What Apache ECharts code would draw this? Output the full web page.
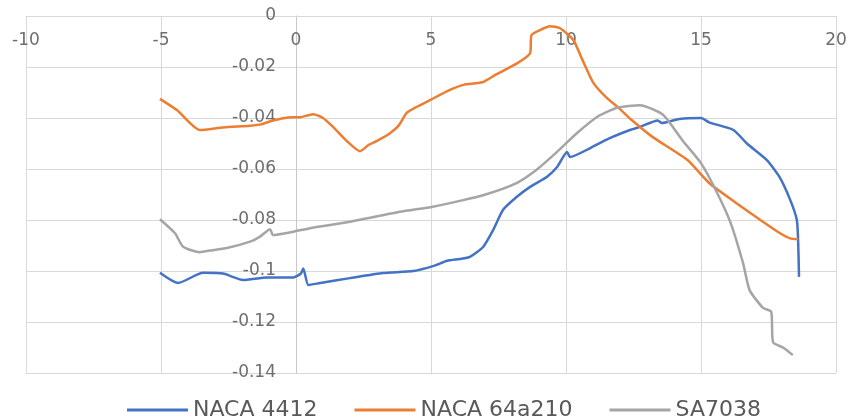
<!DOCTYPE html>
<html>
<head>
<meta charset="utf-8">
<script src="https://cdn.jsdelivr.net/npm/echarts@6/dist/echarts.min.js"></script>
<style>
  html, body { margin: 0; padding: 0; background: #fff; }
  #chart { width: 847px; height: 419px; }
</style>
</head>
<body>
<div id="chart"></div>
<script>
  // series names
  var seriesNames = ['NACA 4412', 'NACA 64a210', 'SA7038'];

  // [x, y] points
  var naca4412 = [
    [-5.04, -0.1007], [-4.37, -0.1047], [-3.44, -0.1007], [-2.7, -0.101], [-1.96, -0.1035],
    [-1.07, -0.1025], [-0.1, -0.1025], [0.18, -0.101], [0.27, -0.099], [0.46, -0.1055],
    [0.9, -0.1047], [2.0, -0.1028], [3.23, -0.1008], [4.35, -0.1], [5.1, -0.098],
    [5.6, -0.096], [6.07, -0.0953], [6.44, -0.0945], [6.93, -0.0906], [7.3, -0.084],
    [7.67, -0.076], [8.17, -0.071], [8.67, -0.067], [9.3, -0.063], [9.67, -0.0592],
    [10.04, -0.0533], [10.15, -0.0553], [10.9, -0.0518], [11.6, -0.048], [12.37, -0.0447],
    [12.74, -0.0435], [13.4, -0.041], [13.55, -0.042], [14.2, -0.0404], [15.0, -0.04],
    [15.3, -0.0417], [16.2, -0.0447], [16.7, -0.05], [17.44, -0.0565], [17.9, -0.063],
    [18.3, -0.072], [18.55, -0.08], [18.6, -0.089], [18.63, -0.1023]
  ];
  var naca64a210 = [
    [-5.04, -0.0325], [-4.4, -0.037], [-3.56, -0.0447], [-2.7, -0.0437], [-1.7, -0.043],
    [-1.3, -0.0425], [-0.85, -0.041], [-0.3, -0.0398], [0.15, -0.0397], [0.64, -0.0385],
    [1.0, -0.04], [1.37, -0.0435], [1.88, -0.049], [2.37, -0.053], [2.7, -0.0505],
    [3.0, -0.049], [3.48, -0.046], [3.8, -0.043], [4.1, -0.038], [4.5, -0.0355],
    [4.96, -0.033], [5.7, -0.029], [6.2, -0.027], [6.9, -0.026], [7.4, -0.023],
    [8.2, -0.0185], [8.67, -0.0146], [8.72, -0.0075], [9.04, -0.0055], [9.4, -0.004],
    [9.78, -0.0048], [10.27, -0.0094], [10.6, -0.017], [11.0, -0.026], [11.5, -0.032],
    [12.0, -0.0365], [12.4, -0.0405], [13.2, -0.0474], [14.5, -0.0565], [15.3, -0.0655],
    [16.3, -0.0733], [17.2, -0.08], [17.9, -0.085], [18.3, -0.0872], [18.6, -0.0875]
  ];
  var sa7038 = [
    [-5.04, -0.0797], [-4.48, -0.0852], [-4.18, -0.0905], [-3.56, -0.0926], [-3.2, -0.092],
    [-2.56, -0.091], [-1.7, -0.0885], [-1.33, -0.0865], [-0.96, -0.0836], [-0.85, -0.0859],
    [-0.1, -0.0846], [0.52, -0.0832], [2.0, -0.0807], [3.85, -0.0768], [5.07, -0.0748],
    [6.07, -0.0725], [6.93, -0.0703], [8.17, -0.0655], [8.9, -0.0604], [9.67, -0.0533],
    [10.4, -0.046], [11.15, -0.0396], [11.9, -0.036], [12.74, -0.035], [13.6, -0.0388],
    [14.3, -0.0486], [15.0, -0.0577], [15.6, -0.0694], [16.1, -0.0812], [16.56, -0.097],
    [16.8, -0.1075], [17.3, -0.1145], [17.6, -0.116], [17.67, -0.128], [18.04, -0.13],
    [18.4, -0.133]
  ];

  var colors = ['#4472C4', '#ED7D31', '#A5A5A5'];

  var chart = echarts.init(document.getElementById('chart'));

  function lineSeries(name, data, color) {
    return {
      name: name,
      type: 'line',
      data: data,
      showSymbol: false,
      symbol: 'none',
      smooth: 0.2,
      lineStyle: { color: color, width: 2.5 },
      itemStyle: { color: color }
    };
  }

  chart.setOption({
    animation: false,
    textStyle: { fontFamily: 'DejaVu Sans' },
    grid: { left: 26, right: 11, top: 16, bottom: 46, containLabel: false, outerBoundsMode: 'none' },
    xAxis: {
      type: 'value',
      position: 'top',
      min: -10, max: 20, interval: 5,
      axisLine: { onZero: false, lineStyle: { color: '#d9d9d9' } },
      axisTick: { show: false },
      axisLabel: { inside: true, margin: 16, color: '#6e6e6e', fontSize: 17 },
      splitLine: { lineStyle: { color: '#d9d9d9' } }
    },
    yAxis: {
      type: 'value',
      position: 'left',
      offset: -270, // puts the y axis line at x = 0
      min: -0.14, max: 0, interval: 0.02,
      axisLine: { show: true, onZero: false, lineStyle: { color: '#c8c8c8' } },
      axisTick: { show: false },
      axisLabel: { margin: 20, color: '#6e6e6e', fontSize: 17 },
      splitLine: { lineStyle: { color: '#d9d9d9' } }
    },
    legend: {
      data: seriesNames,
      left: 122, top: 394,
      icon: 'rect',
      itemWidth: 61, itemHeight: 3,
      itemGap: 37,
      textStyle: { color: '#595959', fontSize: 22, fontFamily: 'DejaVu Sans' }
    },
    series: [
      lineSeries(seriesNames[0], naca4412, colors[0]),
      lineSeries(seriesNames[1], naca64a210, colors[1]),
      lineSeries(seriesNames[2], sa7038, colors[2])
    ]
  });
</script>
</body>
</html>
